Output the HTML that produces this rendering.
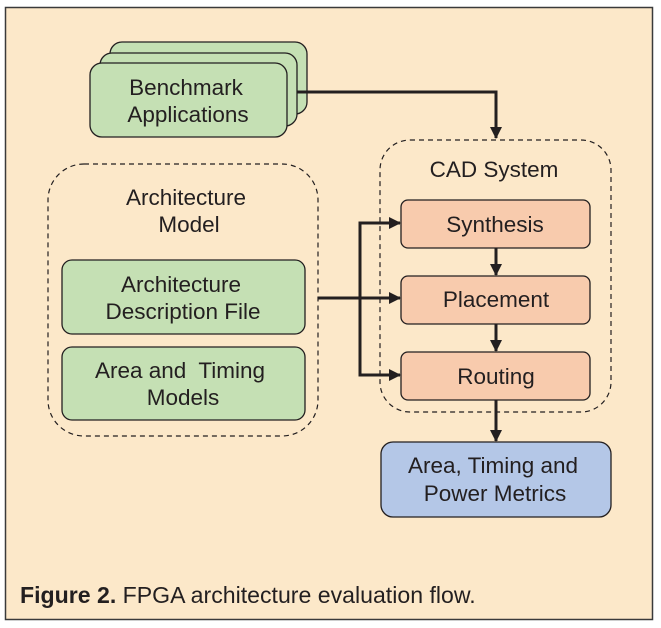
<!DOCTYPE html>
<html><head><style>
html,body{margin:0;padding:0;background:#fff;}
svg{display:block;}
text{font-family:"Liberation Sans",Arial,sans-serif;fill:#231f20;font-size:22.5px;text-anchor:middle;}
</style></head><body>
<svg width="661" height="628" viewBox="0 0 661 628">
<defs><marker id="a" markerWidth="12" markerHeight="12" refX="11" refY="6" orient="auto" markerUnits="userSpaceOnUse"><path d="M0,0 L12,6 L0,12 Z" fill="#231f20"/></marker></defs>
<rect x="5.5" y="7.5" width="647" height="612" fill="#fce8c9" stroke="#3a3a3a" stroke-width="1.5"/>
<rect x="110" y="42" width="197" height="72" rx="12" fill="#c5e0b4" stroke="#231f20" stroke-width="1.3"/>
<rect x="100" y="53" width="197" height="73" rx="12" fill="#c5e0b4" stroke="#231f20" stroke-width="1.3"/>
<rect x="90" y="63" width="197" height="74" rx="12" fill="#c5e0b4" stroke="#231f20" stroke-width="1.3"/>
<text x="186" y="95">Benchmark</text>
<text x="188" y="122">Applications</text>
<polyline points="297,92 496,92 496,138" fill="none" stroke="#231f20" stroke-width="3" marker-end="url(#a)"/>
<rect x="48" y="164" width="270" height="272" rx="36" fill="none" stroke="#231f20" stroke-width="1.2" stroke-dasharray="5,4"/>
<text x="186" y="205">Architecture</text>
<text x="189" y="232">Model</text>
<rect x="62" y="260" width="243" height="74" rx="10" fill="#c5e0b4" stroke="#231f20" stroke-width="1.3"/>
<text x="181" y="292">Architecture</text>
<text x="183" y="319">Description File</text>
<rect x="62" y="347" width="243" height="73" rx="10" fill="#c5e0b4" stroke="#231f20" stroke-width="1.3"/>
<text x="180" y="378" xml:space="preserve">Area and  Timing</text>
<text x="183" y="405">Models</text>
<rect x="380" y="140" width="231" height="272" rx="30" fill="none" stroke="#231f20" stroke-width="1.2" stroke-dasharray="5,4"/>
<text x="494" y="177">CAD System</text>
<rect x="401" y="200" width="189" height="48" rx="7" fill="#f8cbad" stroke="#231f20" stroke-width="1.3"/>
<text x="495" y="232">Synthesis</text>
<rect x="401" y="276" width="189" height="48" rx="7" fill="#f8cbad" stroke="#231f20" stroke-width="1.3"/>
<text x="496" y="307">Placement</text>
<rect x="401" y="352" width="189" height="48" rx="7" fill="#f8cbad" stroke="#231f20" stroke-width="1.3"/>
<text x="496" y="384">Routing</text>
<line x1="496" y1="248" x2="496" y2="275" stroke="#231f20" stroke-width="3" marker-end="url(#a)"/>
<line x1="496" y1="324" x2="496" y2="351" stroke="#231f20" stroke-width="3" marker-end="url(#a)"/>
<line x1="496" y1="400" x2="496" y2="441" stroke="#231f20" stroke-width="3" marker-end="url(#a)"/>
<line x1="318" y1="298" x2="400" y2="298" stroke="#231f20" stroke-width="3" marker-end="url(#a)"/>
<polyline points="400,223 360,223 360,375 400,375" fill="none" stroke="#231f20" stroke-width="3"/>
<line x1="385" y1="223" x2="400" y2="223" stroke="#231f20" stroke-width="3" marker-end="url(#a)"/>
<line x1="385" y1="375" x2="400" y2="375" stroke="#231f20" stroke-width="3" marker-end="url(#a)"/>
<rect x="381" y="442" width="230" height="75" rx="12" fill="#b4c7e7" stroke="#231f20" stroke-width="1.3"/>
<text x="493" y="473">Area, Timing and</text>
<text x="495" y="501">Power Metrics</text>
<text x="20" y="603" style="text-anchor:start;font-size:23.1px"><tspan font-weight="bold">Figure 2.</tspan> FPGA architecture evaluation flow.</text>
</svg>
</body></html>
